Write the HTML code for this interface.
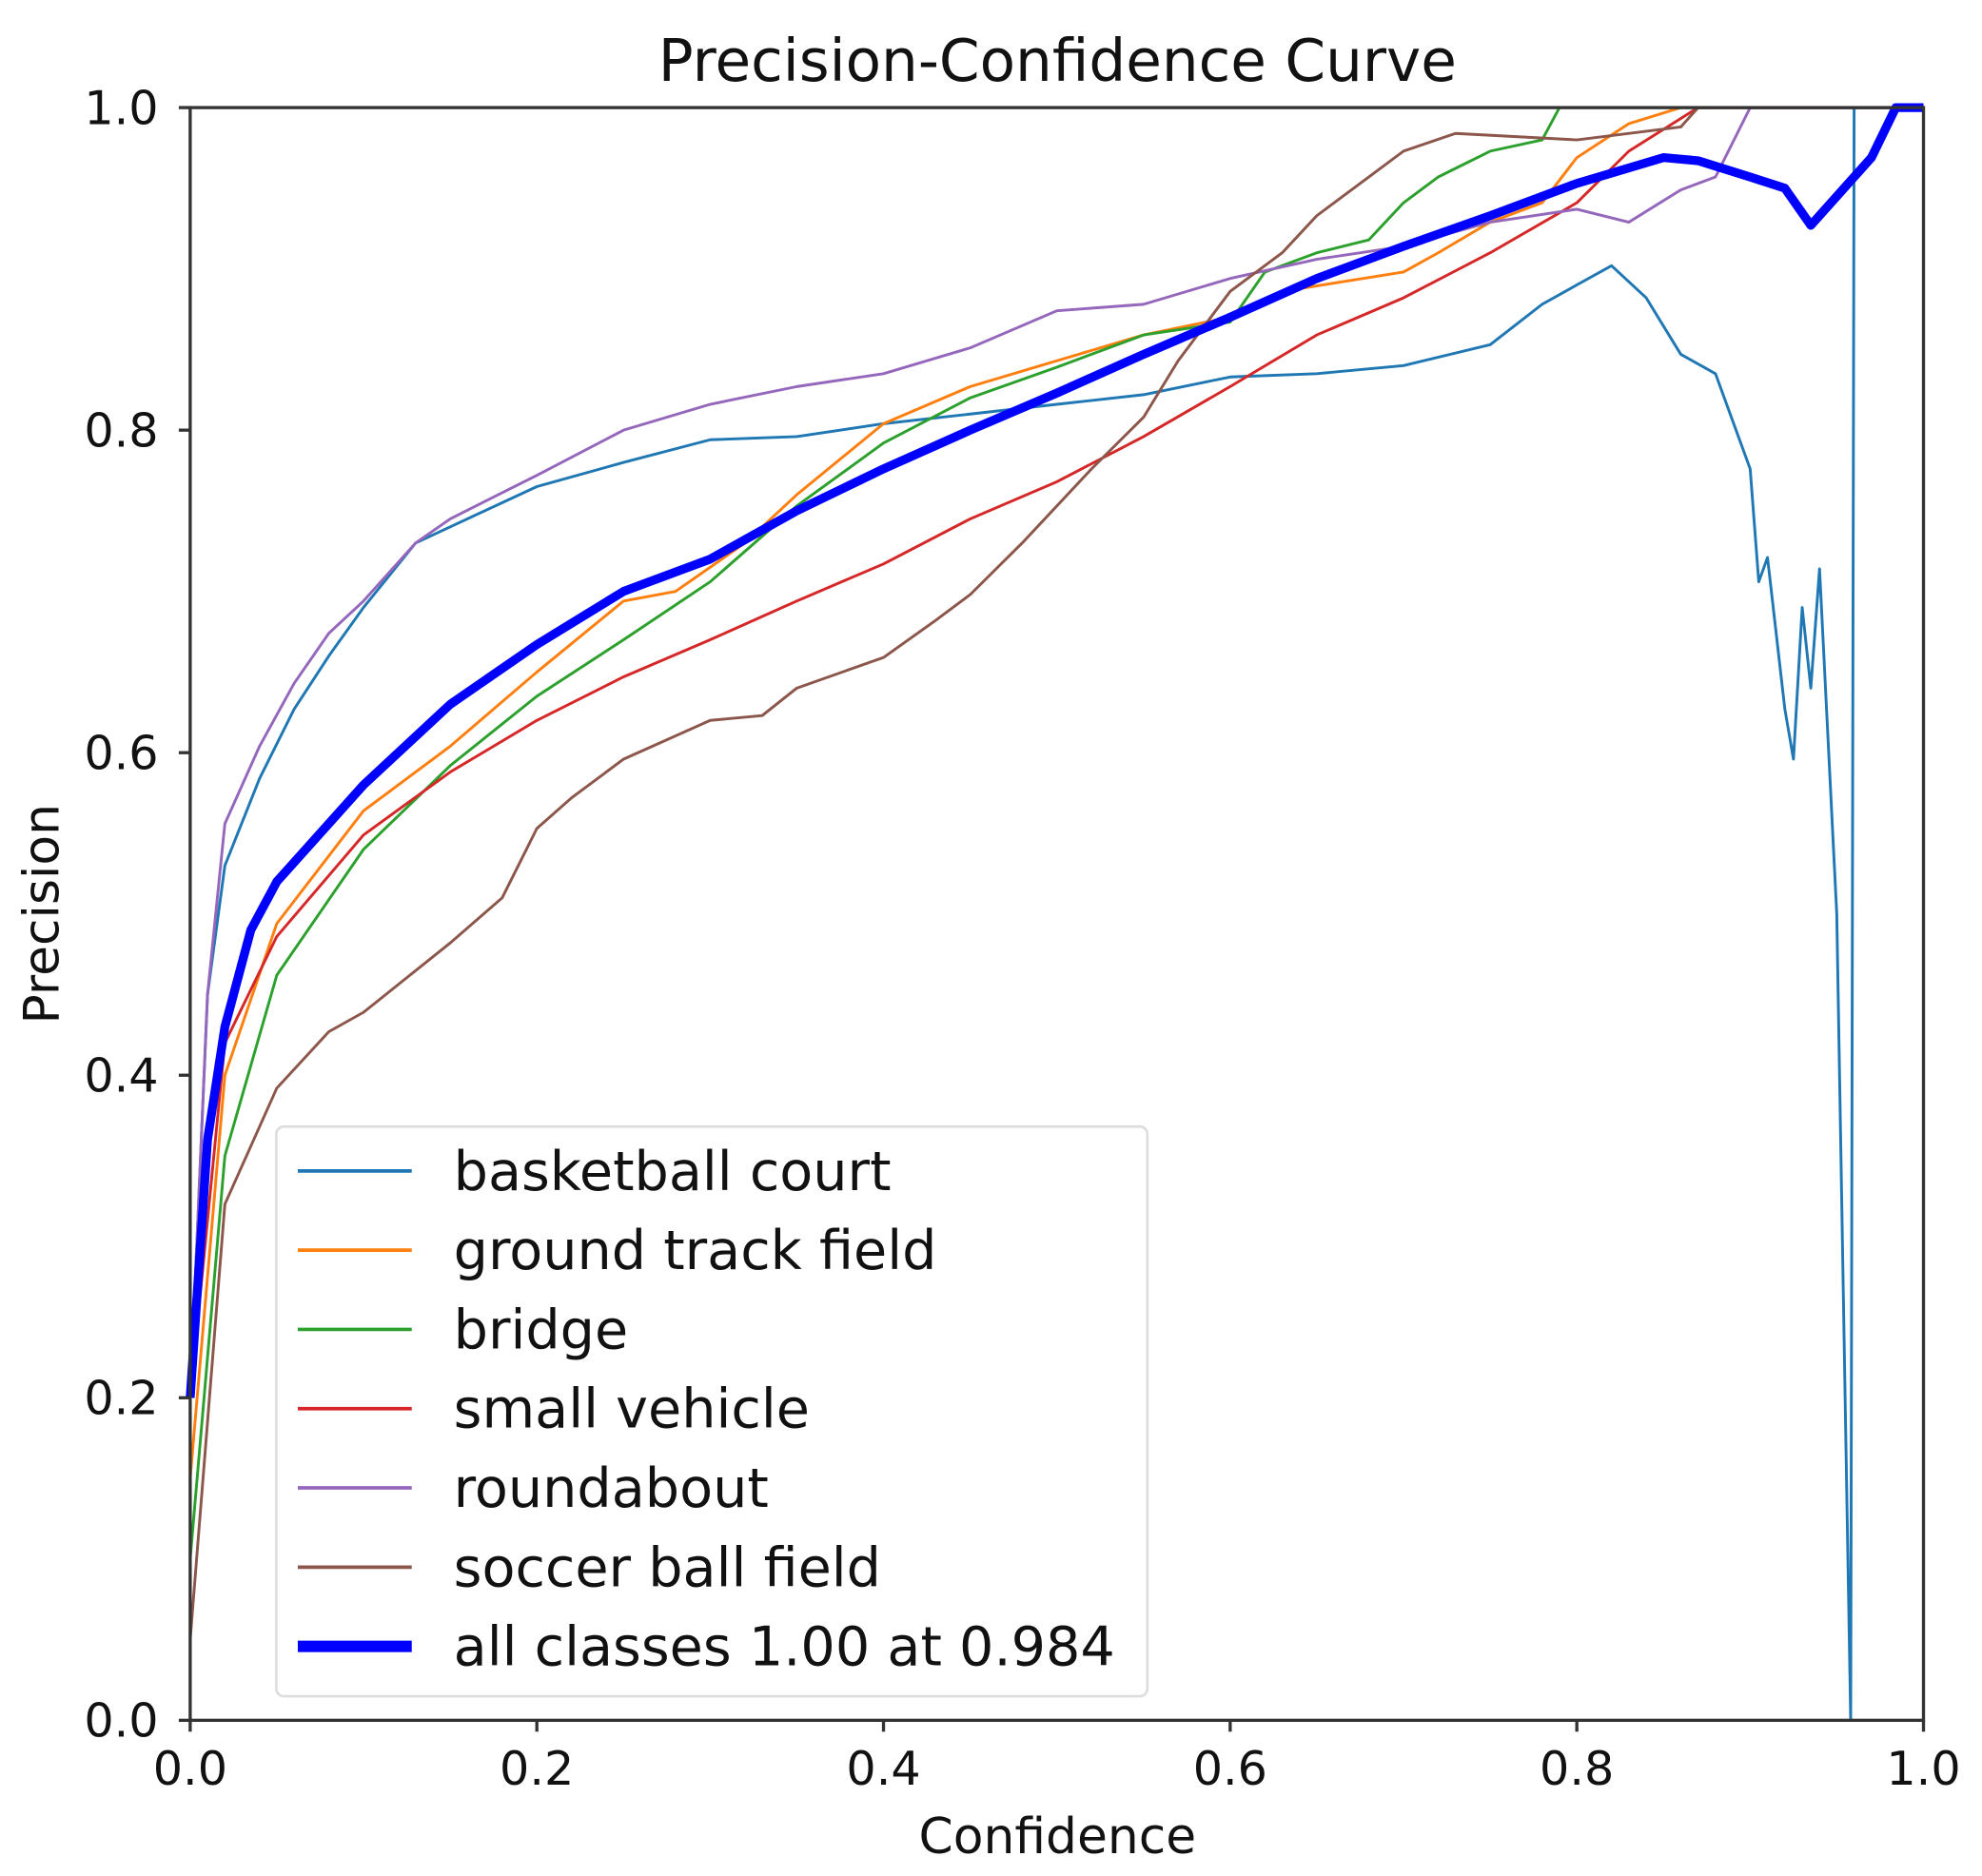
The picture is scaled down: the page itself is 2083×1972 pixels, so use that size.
<!DOCTYPE html>
<html><head><meta charset="utf-8"><style>
html,body{margin:0;padding:0;background:#fff;}
svg{display:block;font-family:"DejaVu Sans","Liberation Sans",sans-serif;}
</style></head><body>
<svg id="chart" width="2083" height="1972" viewBox="0 0 1565 1482" xmlns="http://www.w3.org/2000/svg">
<rect width="1565" height="1482" fill="#fff"/>
<text x="835" y="64" font-size="46" text-anchor="middle" fill="#111">Precision-Confidence Curve</text>
<g id="series"></g>
<rect x="150" y="85" width="1369" height="1274" fill="none" stroke="#333" stroke-width="2.5"/>
<g id="ticks"></g>
<text x="835" y="1464" font-size="39" text-anchor="middle" fill="#111">Confidence</text>
<text x="46" y="722" font-size="39" text-anchor="middle" fill="#111" transform="rotate(-90 46 722)">Precision</text>
<g id="legend"></g>
</svg>
<script>
const xTicks=[0,0.2,0.4,0.6,0.8,1.0];
const yTicks=[0,0.2,0.4,0.6,0.8,1.0];
const tickLabels=["0.0","0.2","0.4","0.6","0.8","1.0"];
const seriesNames=["basketball court","ground track field","bridge","small vehicle","roundabout","soccer ball field","all classes 1.00 at 0.984"];
const seriesColors=["#1f77b4","#ff7f0e","#2ca02c","#d62728","#9467bd","#8c564b","#0000ff"];
const bcX=[0,0.01,0.02,0.04,0.06,0.08,0.1,0.13,0.15,0.2,0.25,0.3,0.35,0.4,0.45,0.5,0.55,0.6,0.65,0.7,0.75,0.78,0.8,0.82,0.84,0.86,0.88,0.9,0.905,0.91,0.92,0.925,0.93,0.935,0.94,0.95,0.958,0.96,1.0];
const bcY=[0.2,0.45,0.53,0.584,0.627,0.66,0.69,0.73,0.74,0.765,0.78,0.794,0.796,0.804,0.81,0.816,0.822,0.833,0.835,0.84,0.853,0.878,0.89,0.902,0.882,0.847,0.835,0.776,0.706,0.721,0.627,0.596,0.69,0.64,0.714,0.5,0,1.0,1.0];
const gtX=[0,0.02,0.05,0.1,0.15,0.2,0.25,0.28,0.32,0.35,0.4,0.45,0.5,0.55,0.6,0.63,0.7,0.72,0.75,0.78,0.8,0.83,0.86,1.0];
const gtY=[0.15,0.4,0.494,0.564,0.604,0.65,0.694,0.70,0.73,0.76,0.804,0.827,0.843,0.859,0.87,0.886,0.898,0.91,0.929,0.941,0.969,0.99,1.0,1.0];
const brX=[0,0.02,0.05,0.1,0.15,0.2,0.25,0.3,0.35,0.4,0.45,0.5,0.55,0.6,0.62,0.65,0.68,0.7,0.72,0.75,0.78,0.79,1.0];
const brY=[0.1,0.35,0.462,0.54,0.592,0.635,0.67,0.706,0.753,0.792,0.82,0.839,0.859,0.867,0.898,0.91,0.918,0.941,0.957,0.973,0.98,1.0,1.0];
const svX=[0,0.02,0.05,0.1,0.15,0.2,0.25,0.3,0.35,0.4,0.45,0.5,0.55,0.6,0.65,0.7,0.75,0.8,0.83,0.87,1.0];
const svY=[0.2,0.42,0.486,0.549,0.588,0.62,0.647,0.67,0.694,0.717,0.745,0.768,0.796,0.827,0.859,0.882,0.91,0.941,0.973,1.0,1.0];
const rbX=[0,0.01,0.02,0.04,0.06,0.08,0.1,0.13,0.15,0.2,0.25,0.3,0.35,0.4,0.45,0.5,0.55,0.6,0.65,0.7,0.75,0.8,0.83,0.86,0.88,0.9,1.0];
const rbY=[0.2,0.45,0.556,0.604,0.643,0.674,0.694,0.73,0.745,0.772,0.80,0.816,0.827,0.835,0.851,0.874,0.878,0.894,0.906,0.914,0.929,0.937,0.929,0.949,0.957,1.0,1.0];
const sfX=[0,0.02,0.05,0.08,0.1,0.15,0.18,0.2,0.22,0.25,0.3,0.33,0.35,0.4,0.43,0.45,0.48,0.5,0.52,0.55,0.57,0.6,0.63,0.65,0.68,0.7,0.73,0.8,0.86,0.87,1.0];
const sfY=[0.05,0.32,0.392,0.427,0.439,0.482,0.51,0.553,0.572,0.596,0.62,0.623,0.64,0.659,0.682,0.698,0.73,0.753,0.776,0.808,0.843,0.886,0.91,0.933,0.957,0.973,0.984,0.98,0.988,1.0,1.0];
const acX=[0,0.01,0.02,0.035,0.05,0.1,0.15,0.2,0.25,0.3,0.35,0.4,0.45,0.5,0.55,0.6,0.65,0.7,0.75,0.8,0.85,0.87,0.9,0.92,0.935,0.95,0.97,0.984,1.0];
const acY=[0.2,0.36,0.43,0.49,0.52,0.58,0.63,0.667,0.70,0.72,0.75,0.776,0.80,0.823,0.847,0.87,0.894,0.914,0.933,0.953,0.969,0.967,0.957,0.95,0.927,0.945,0.969,1.0,1.0];

const NS="http://www.w3.org/2000/svg";
const X0=150,X1=1519,Y0=1359,Y1=85;
function sx(v){return X0+v*(X1-X0);}
function sy(v){return Y0-v*(Y0-Y1);}
const seriesX=[bcX,gtX,brX,svX,rbX,sfX,acX];
const seriesY=[bcY,gtY,brY,svY,rbY,sfY,acY];
const seriesKeys=["basketball-court","ground-track-field","bridge","small-vehicle","roundabout","soccer-ball-field","all-classes"];
const g=document.getElementById('series');
for(let i=0;i<seriesX.length;i++){
  const p=document.createElementNS(NS,'path');
  let d='';
  for(let j=0;j<seriesX[i].length;j++){d+=(j?'L':'M')+sx(seriesX[i][j]).toFixed(1)+' '+sy(seriesY[i][j]).toFixed(1);}
  p.setAttribute('d',d);
  p.setAttribute('fill','none');
  p.setAttribute('stroke',seriesColors[i]);
  p.setAttribute('stroke-width',i===6?7:2.2);
  p.setAttribute('stroke-linejoin','round');
  
  
  g.appendChild(p);
}
const t=document.getElementById('ticks');
for(let i=0;i<xTicks.length;i++){
  const x=sx(xTicks[i]);
  const l=document.createElementNS(NS,'line');
  l.setAttribute('x1',x);l.setAttribute('x2',x);l.setAttribute('y1',Y0);l.setAttribute('y2',Y0+9);
  l.setAttribute('stroke','#333');l.setAttribute('stroke-width',2.5);
  
  
  t.appendChild(l);
  const tx=document.createElementNS(NS,'text');
  tx.setAttribute('x',x);tx.setAttribute('y',1410);tx.setAttribute('font-size',37);tx.setAttribute('text-anchor','middle');tx.setAttribute('fill','#111');
  tx.textContent=tickLabels[i];
  
  
  t.appendChild(tx);
}
for(let i=0;i<yTicks.length;i++){
  const y=sy(yTicks[i]);
  const l=document.createElementNS(NS,'line');
  l.setAttribute('x1',X0-9);l.setAttribute('x2',X0);l.setAttribute('y1',y);l.setAttribute('y2',y);
  l.setAttribute('stroke','#333');l.setAttribute('stroke-width',2.5);
  
  
  t.appendChild(l);
  const tx=document.createElementNS(NS,'text');
  tx.setAttribute('x',125);tx.setAttribute('y',y+13);tx.setAttribute('font-size',37);tx.setAttribute('text-anchor','end');tx.setAttribute('fill','#111');
  tx.textContent=tickLabels[i];
  
  
  t.appendChild(tx);
}
const lg=document.getElementById('legend');
const box=document.createElementNS(NS,'rect');
box.setAttribute('x',218);box.setAttribute('y',890);box.setAttribute('width',688);box.setAttribute('height',450);box.setAttribute('rx',6);
box.setAttribute('fill','rgba(255,255,255,0.85)');box.setAttribute('stroke','#ddd');box.setAttribute('stroke-width',2);


lg.appendChild(box);
for(let i=0;i<seriesNames.length;i++){
  const y=925+i*62.6;
  const l=document.createElementNS(NS,'line');
  l.setAttribute('x1',235);l.setAttribute('x2',325);l.setAttribute('y1',y);l.setAttribute('y2',y);
  l.setAttribute('stroke',seriesColors[i]);l.setAttribute('stroke-width',i===6?9:2.8);
  
  
  lg.appendChild(l);
  const tx=document.createElementNS(NS,'text');
  tx.setAttribute('x',358);tx.setAttribute('y',y+15);tx.setAttribute('font-size',43);tx.setAttribute('fill','#111');
  tx.textContent=seriesNames[i];
  
  
  lg.appendChild(tx);
}
</script>
</body></html>
